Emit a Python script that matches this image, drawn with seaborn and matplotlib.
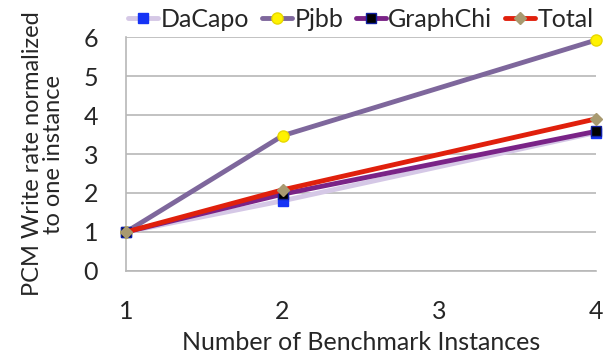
import pandas as pd
import numpy as np
import matplotlib.pyplot as plt
import seaborn as sns

# values
instances = [1, 2, 4]
dacapo = [1.0, 1.8, 3.55]
pjbb = [1.0, 3.47, 5.92]
graphchi = [1.0, 1.97, 3.58]
total = [1.0, 2.08, 3.9]

series_names = ['DaCapo', 'Pjbb', 'GraphChi', 'Total']
series_values = [dacapo, pjbb, graphchi, total]

df = pd.DataFrame({
    'instances': instances * len(series_names),
    'rate': sum(series_values, []),
    'benchmark': np.repeat(series_names, len(instances)),
})

sns.set_style('white')
plt.rcParams['font.family'] = ['Lato', 'DejaVu Sans']

line_colors = {'DaCapo': '#D5C8E6', 'Pjbb': '#7E679C', 'GraphChi': '#7A2387', 'Total': '#E0200C'}
marker_face = {'DaCapo': '#1533F5', 'Pjbb': '#FFF200', 'GraphChi': '#000000', 'Total': '#A89A70'}
marker_edge = {'DaCapo': '#1533F5', 'Pjbb': '#E8D800', 'GraphChi': '#1020A0', 'Total': '#A89A70'}
markers = {'DaCapo': 's', 'Pjbb': 'o', 'GraphChi': 's', 'Total': 'D'}
msize = {'DaCapo': 7, 'Pjbb': 8, 'GraphChi': 7, 'Total': 6}

fig = plt.figure(figsize=(6.13, 3.56), dpi=100)
ax = fig.add_axes([0.2055, 0.2388, 0.7665, 0.6572])

for name in series_names:
    sub = df[df['benchmark'] == name]
    sns.lineplot(data=sub, x='instances', y='rate', ax=ax, color=line_colors[name],
                 linewidth=3.5, marker=markers[name], markersize=msize[name],
                 markerfacecolor=marker_face[name], markeredgecolor=marker_edge[name],
                 markeredgewidth=1, label=name, clip_on=False, zorder=3)

ax.set_xlim(1, 4)
ax.set_ylim(0, 6)
ax.set_xticks([1, 2, 3, 4])
ax.set_yticks(range(0, 7))
ax.yaxis.grid(True, color='#B8B8B8', linewidth=1.2)
ax.set_axisbelow(True)
for s in ['top', 'right']:
    ax.spines[s].set_visible(False)
ax.spines['left'].set_color('#B8B8B8')
ax.spines['bottom'].set_color('#B8B8B8')
ax.spines['left'].set_linewidth(1.2)
ax.spines['bottom'].set_linewidth(1.2)
ax.tick_params(axis='both', length=8, width=1.2, color='#B8B8B8', labelsize=18,
               direction='out')
ax.tick_params(axis='x', pad=13)
ax.tick_params(axis='y', pad=12)

ax.set_xlabel('Number of Benchmark Instances', fontsize=18, labelpad=6)
ax.set_ylabel('PCM Write rate normalized\nto one instance', fontsize=17, labelpad=14, linespacing=1.0)

ax.legend(loc='lower center', bbox_to_anchor=(0.5, 0.985), ncol=4, frameon=False,
          fontsize=18, handlelength=1.2, handletextpad=0.1, columnspacing=0.5,
          borderaxespad=0)

fig.savefig('out.png', dpi=100)
